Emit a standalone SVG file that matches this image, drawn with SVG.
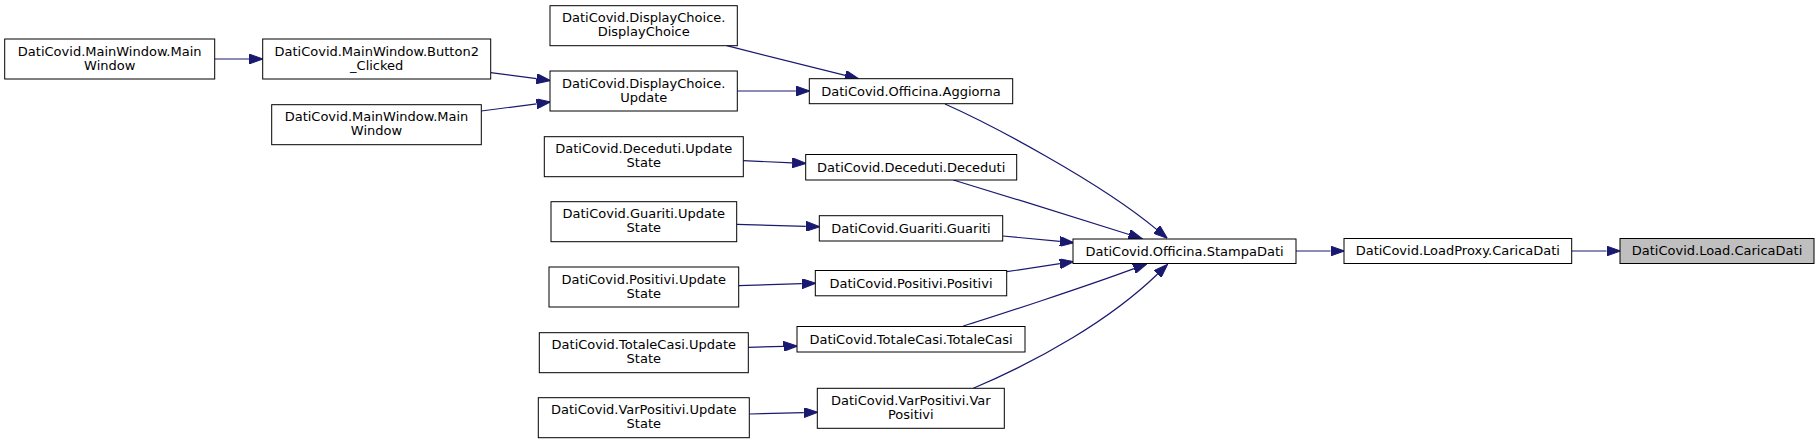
<svg xmlns="http://www.w3.org/2000/svg" width="1819" height="444" viewBox="0 0 1819 444">
<style>
.n rect{fill:#ffffff;stroke:#000000;stroke-width:1}
.n.sel rect{fill:#bfbfbf}
.n text{font-family:"DejaVu Sans",sans-serif;font-size:13px;fill:#000000;text-anchor:middle}
.e path{fill:none;stroke:#191970;stroke-width:1.2;marker-end:url(#ah)}
</style>
<defs>
<marker id="ah" markerUnits="userSpaceOnUse" markerWidth="14" markerHeight="10" viewBox="0 0 14 10" refX="0" refY="5" orient="auto">
<path d="M0,0 L14,5 L0,10 z" fill="#191970" stroke="#191970" stroke-width="1"/>
</marker>
</defs>
<rect width="1819" height="444" fill="#ffffff"/>
<g id="edges" class="e">
<path d="M214.7,59 L249,59"/>
<path d="M490.7,72.7 L536.6,78.7"/>
<path d="M481.3,111 L536.6,103.8"/>
<path d="M726.7,45.7 L845.2,75.4"/>
<path d="M737.3,91 L795.8,91"/>
<path d="M743.3,160.7 L792.2,162.8"/>
<path d="M736.7,224.3 L805.8,226.3"/>
<path d="M738.7,285.7 L801.8,283.7"/>
<path d="M748.3,347.3 L783.5,346.4"/>
<path d="M749.3,414 L803.8,412.6"/>
<path d="M945,104 C990,124 1100,182 1156.6,229.4"/>
<path d="M953.3,180 C1010,197 1080,219 1129.1,234.5"/>
<path d="M1002.7,236 L1059.9,241.4"/>
<path d="M1006.7,271.7 L1059.9,263.7"/>
<path d="M963.3,326 C990,318 1090,285 1134,268.6"/>
<path d="M973.3,388.3 C1040,360 1110,320 1157.6,274"/>
<path d="M1296,251 L1330.5,251"/>
<path d="M1571.7,251 L1606.5,251"/>
</g>
<g id="n_mw1" class="n"><rect x="4.7" y="39" width="210" height="40"/><text x="109.7" y="55.7">DatiCovid.MainWindow.Main</text><text x="109.7" y="69.7">Window</text></g>
<g id="n_b2" class="n"><rect x="262.7" y="39" width="228" height="40"/><text x="376.7" y="55.7">DatiCovid.MainWindow.Button2</text><text x="376.7" y="69.7">_Clicked</text></g>
<g id="n_mw2" class="n"><rect x="271.7" y="104.7" width="209.6" height="40"/><text x="376.5" y="121.4">DatiCovid.MainWindow.Main</text><text x="376.5" y="135.4">Window</text></g>
<g id="n_dcdc" class="n"><rect x="550" y="5.7" width="187.3" height="40"/><text x="643.7" y="22.4">DatiCovid.DisplayChoice.</text><text x="643.7" y="36.4">DisplayChoice</text></g>
<g id="n_dcu" class="n"><rect x="550" y="71" width="187.3" height="40"/><text x="643.7" y="87.7">DatiCovid.DisplayChoice.</text><text x="643.7" y="101.7">Update</text></g>
<g id="n_agg" class="n"><rect x="809.3" y="78.7" width="203.4" height="25"/><text x="911" y="95.6">DatiCovid.Officina.Aggiorna</text></g>
<g id="n_decus" class="n"><rect x="544.3" y="136.7" width="199" height="40"/><text x="643.8" y="153.4">DatiCovid.Deceduti.Update</text><text x="643.8" y="167.4">State</text></g>
<g id="n_dec" class="n"><rect x="805.7" y="154.5" width="211" height="25.5"/><text x="911.2" y="171.6">DatiCovid.Deceduti.Deceduti</text></g>
<g id="n_guaus" class="n"><rect x="551" y="201.7" width="185.7" height="40"/><text x="643.8" y="218.4">DatiCovid.Guariti.Update</text><text x="643.8" y="232.4">State</text></g>
<g id="n_gua" class="n"><rect x="819.3" y="215.7" width="183.4" height="25.3"/><text x="911" y="232.7">DatiCovid.Guariti.Guariti</text></g>
<g id="n_posus" class="n"><rect x="549" y="267" width="189.7" height="40"/><text x="643.8" y="283.7">DatiCovid.Positivi.Update</text><text x="643.8" y="297.7">State</text></g>
<g id="n_pos" class="n"><rect x="815.3" y="270.5" width="191.4" height="25.3"/><text x="911" y="287.5">DatiCovid.Positivi.Positivi</text></g>
<g id="n_totus" class="n"><rect x="539.3" y="332.7" width="209" height="40"/><text x="643.8" y="349.4">DatiCovid.TotaleCasi.Update</text><text x="643.8" y="363.4">State</text></g>
<g id="n_tot" class="n"><rect x="797" y="326.5" width="228" height="25.5"/><text x="911" y="343.6">DatiCovid.TotaleCasi.TotaleCasi</text></g>
<g id="n_varus" class="n"><rect x="538.3" y="397.7" width="211" height="40"/><text x="643.8" y="414.4">DatiCovid.VarPositivi.Update</text><text x="643.8" y="428.4">State</text></g>
<g id="n_var" class="n"><rect x="817.3" y="388.3" width="187" height="40"/><text x="910.8" y="405">DatiCovid.VarPositivi.Var</text><text x="910.8" y="419">Positivi</text></g>
<g id="n_stampa" class="n"><rect x="1073" y="239" width="223" height="24.5"/><text x="1184.5" y="255.6">DatiCovid.Officina.StampaDati</text></g>
<g id="n_lp" class="n"><rect x="1344" y="238.5" width="227.7" height="25"/><text x="1457.8" y="255.4">DatiCovid.LoadProxy.CaricaDati</text></g>
<g id="n_load" class="n sel"><rect x="1620" y="238.5" width="194" height="25"/><text x="1717" y="255.4">DatiCovid.Load.CaricaDati</text></g>
</svg>
